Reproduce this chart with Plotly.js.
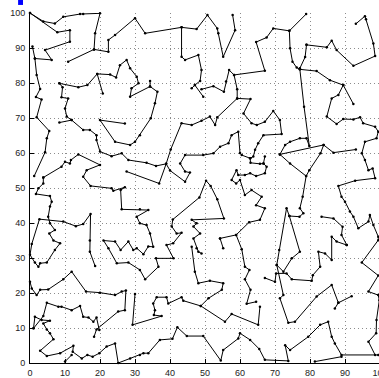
<!DOCTYPE html>
<html><head><meta charset="utf-8">
<script src="https://cdn.plot.ly/plotly-3.0.1.min.js"></script>
<style>html,body{margin:0;padding:0;overflow:hidden;background:#fff}</style>
</head><body><div id="chart"></div>
<script>
const p01x=[0,3.8,7.1,9.5,14.3,15.2,20,18.6,18.3,22.4,22.4,24.3,30,32.9,43.3,47.6,50.7,53.5,53.8,55.2,58.6,57.9];
const p01y=[100,97.6,97.0,98.9,99.7,99.7,99.9,94.2,89.6,88.9,92.3,93.7,98.5,94.2,95.9,95.4,99.4,95.6,94.2,87.5,95.1,99.4];
const p02x=[0,7.8,11.4,11.4,4.3,6.2,1.4,0.7];
const p02y=[100,94.5,95.1,91.8,89.4,86.6,87.0,90.4];
const p03x=[1.4,1.9,2.9,1.7,3.3,1.9,5.5,4.8,4.3,1.2];
const p03y=[87.0,82.3,78.3,76.0,75.3,70.2,66.3,64.2,60.2,53.4];
const p04x=[10.9,18.3], p04y=[86.1,89.6];
const p05x=[43.3,43.3,44.3,48.1,49.0,48.6,47.1,46.2];
const p05y=[95.9,87.5,86.6,88.0,83.7,80.6,79.4,78.5];
const p06x=[47.1,49.5], p06y=[79.4,76.1];
const p07x=[49.0,52.4,55.4,56.0,56.9,58.3,59.2,59.2,63.0,61.0,63.3,64.8,67.1,69.5,71.4,71.9,66.7,65.2,64.3,63.8,62.9,60.5,60.0,59.5,57.6,56.7,54.3,52.4,49.5,44.3,42.9,44.3,45.7,44.3,40.0,38.9,36.9,27.6];
const p07y=[78.2,79.1,77.5,80.4,83.7,82.3,78.2,75.6,75.4,71.3,68.5,68.0,68.9,72.0,69.4,65.4,65.1,62.8,60.9,59.0,58.5,59.4,60.0,66.1,65.1,62.8,61.8,59.9,59.4,59.4,57.0,54.7,54.4,51.8,55.0,56.9,51.3,54.7];
const p08x=[58.3,67.1,64.6,67.6,69.5,74.1,78.9];
const p08y=[82.3,83.5,91.7,93.0,95.6,94.9,99.7];
const p09x=[74.1,74.3,75.0,76.2,77.1,81.9,85.7,89.5,92.4];
const p09y=[94.9,89.9,86.1,84.4,83.9,83.4,80.8,79.4,74.0];
const p10x=[77.1,78.3,79.8,79.0,77.1,74.3,72.9,71.4,83.9,86.7,93.1];
const p10y=[83.9,73.2,62.0,64.2,64.2,63.2,62.3,59.6,62.3,60.1,61.0];
const p11x=[71.4,74.3,78.9,79.8,83.0,83.9];
const p11y=[59.6,57.0,53.4,55.1,59.9,62.3];
const p12x=[78.9,77.9,77.1,78.1,77.0,74.1,73.3,71.2,70.5,72.4,74.8,77.1,74.1];
const p12y=[53.4,47.5,44.2,42.8,41.8,42.0,44.2,32.3,28.0,26.1,29.9,31.8,42.0];
const p13x=[70.5,72.4,71.4,73.8,75.7,81.9,86.2,88.1,87.1];
const p13y=[28.0,19.4,18.5,11.5,11.8,19.0,22.3,17.2,15.6];
const p14x=[88.1,91.9], p14y=[17.2,19.1];
const p15x=[90.5,87.6,86.2,86.2,84.3,82.4,82.9,80.8,80.5,74.8,73.3,70.3,70.0,67.1];
const p15y=[33.7,34.7,36.1,29.4,31.3,31.8,27.5,25.1,23.5,23.9,25.6,25.6,23.2,24.3];
const p16x=[83.3,86.7,89.3,89.0,90.5];
const p16y=[41.8,41.3,38.9,36.6,33.7];
const p17x=[79.0,84.8,86.2,87.6,92.4,98.6,98.1,96.0,95.7,93.1];
const p17y=[90.9,90.2,92.1,89.4,84.9,87.7,91.3,98.2,99.1,96.9];
const p18x=[79.0,78.6,77.1], p18y=[90.9,87.4,84.2];
const p19x=[89.5,88.1,86.2,84.8,87.6,89.5,92.4,94.3,95.2,98.6,99.5,99.0,95.7,94.8,95.7,96.7,97.9,98.6,92.9,88.1,89.0,90.0,91.4,92.4,93.8,96.7,97.1,98.1,99.5,99.5,94.8,99.5,96.7,99.5,99.8,99.0,98.9,96.7,98.6];
const p19y=[79.4,76.6,75.6,70.4,68.3,69.7,69.6,70.2,68.5,67.5,66.1,64.2,63.2,59.9,58.0,55.1,55.6,52.8,52.1,50.6,47.5,46.1,43.3,41.8,38.5,40.4,42.3,39.4,36.1,35.1,28.7,25.0,20.4,19.4,17.9,12.3,8.5,6.1,2.3];
const p20x=[8.4,11.9,15.2,17.1,19.0,19.0,20.0,23.3,26.2,28.1,33.3,36.0,38.9,40.2,43.3,46.2,49.0,51.4,52.9,53.5,59.2];
const p20y=[68.7,69.4,66.6,66.6,65.1,63.7,60.4,59.1,59.9,58.0,57.2,56.3,56.9,61.0,68.5,68.0,69.2,70.4,68.0,70.2,75.6];
const p21x=[8.4,13.8,16.4,19.2,22.9,24.6,25.7,27.6,28.6,30.5,31.0,29.0,28.6,34.3,36.4,35.7,34.5,31.4,30.0,28.6,24.3,20.0,27.1];
const p21y=[79.9,78.8,79.4,82.6,82.4,81.6,85.1,86.6,84.2,81.8,79.9,78.5,76.1,79.0,77.5,74.2,69.9,65.1,63.2,62.3,63.2,69.4,68.4];
const p22x=[19.2,20.8], p22y=[82.6,77.0];
const p23x=[8.4,9.3,9.0,10.9,10.0,10.5,11.9];
const p23y=[79.9,78.8,75.9,75.6,72.7,70.4,69.4];
const p24x=[34.3,34.3], p24y=[80.6,79.0];
const p25x=[3.8,9.0,10.0,11.4,11.7,13.8,20.0,16.2,15.2,17.3,23.3,23.8,27.1,25.9,26.2,31.4,33.8,30.5,31.4,33.3,34.3,35.2,33.8,32.4,30.5,29.5,28.1,25.9,24.3,21.0,22.4,24.8,28.1,31.4,32.9,36.7,36.0,41.0,39.0,40.9,43.3,41.9,40.5,40.8,48.4,50.3,51.6,53.5,55.4,46.2,47.6,46.7,48.6,46.7,47.6,48.1,49.0];
const p25y=[53.0,56.1,57.5,57.0,58.0,59.6,56.6,55.1,53.2,50.6,49.9,49.2,50.2,49.4,43.9,43.9,43.7,41.8,39.9,39.4,37.0,33.2,33.3,31.1,32.8,32.3,34.7,32.3,34.7,35.0,32.8,28.5,28.7,26.6,23.9,27.5,29.9,29.9,33.7,34.2,37.2,37.0,39.0,41.0,47.3,52.1,50.6,46.8,41.3,40.9,39.9,39.0,37.0,35.6,32.8,31.8,31.3];
const p26x=[3.8,3.8,2.4,1.7,5.7,6.2,5.7,5.2,5.7,7.1,5.5,6.7,8.6,7.1,4.8,2.9,2.4,1.4,0,0.5,2.7,9.5,13.1,15.2,17.3,17.1,17.1,18.6];
const p26y=[53.0,51.3,49.9,48.3,47.7,46.1,44.7,41.8,39.9,38.0,37.0,35.0,34.2,32.3,28.7,28.5,27.5,28.7,30.9,34.0,41.1,40.4,39.1,39.7,42.6,35.0,31.8,27.7];
const p27x=[0,0.5,1.9,2.9,5.2,9.5,11.9,16.0,20.0,24.3,26.2,27.4,27.1,25.2,19.0,18.3];
const p27y=[23.2,21.3,19.4,20.9,21.0,23.9,26.1,20.4,20.1,19.4,20.4,20.7,15.1,14.7,9.6,7.5];
const p28x=[1.0,3.8,4.8,8.1,9.0,11.9,14.3,15.2,16.7,18.1,19.0,19.8];
const p28y=[9.9,13.4,17.2,16.1,16.1,15.1,16.3,13.2,13.0,11.8,13.0,9.4];
const p29x=[1.0,1.4,3.3,5.7,3.8,4.8,5.7,6.7,2.9,4.8,8.6,12.4,12.2,14.8,16.4,17.9,19.8,21.9,24.3,25.2,28.6,31.4,32.4,33.8,37.1,40.7,42.1,44.8,49.5,54.5,55.2,59.5,60.0,62.9,65.5,67.1,73.8,72.9,74.3,79.5,82.9,85.2,86.2,87.1,89.0,99.5];
const p29y=[9.9,13.2,12.3,12.1,11.3,9.6,8.5,6.8,3.5,2.0,2.8,4.9,3.2,1.3,2.3,1.8,2.8,4.7,5.6,0,1.3,2.3,2.8,2.8,6.6,6.9,10.2,7.7,7.7,0.7,3.7,7.0,8.5,6.6,4.0,0.9,0.6,5.1,3.7,7.5,10.9,11.8,7.5,5.6,2.3,2.3];
const p30x=[10.0,11.9], p30y=[0.4,2.3];
const p31x=[81.4,89.0], p31y=[0.4,1.8];
const p32x=[30.0,29.3,37.6,35.4,35.7,35.2,36.2,39.0,39.5,43.3,43.8,48.8,51.0,54.8,55.2,51.4,48.1,47.1,46.2];
const p32y=[19.7,10.9,13.4,13.7,15.1,17.0,18.8,18.8,17.0,18.8,17.8,16.3,18.5,20.9,22.8,23.5,22.8,26.1,33.2];
const p33x=[48.8,55.7,57.6,65.2,65.7], p33y=[16.3,11.8,14.0,10.9,16.1];
const p34x=[54.3,58.9,60.5,61.4,62.7,61.4,63.0,61.9,64.6];
const p34y=[35.6,36.6,32.5,27.5,26.6,23.9,20.9,16.9,17.5];
const p35x=[54.3,55.2], p35y=[35.6,32.8];
const p36x=[58.9,62.6,65.7,67.1,64.6,66.2,63.3,61.4,60.0,58.9,57.6,59.0,59.5,61.4,62.9,64.6,67.1,67.6,66.7,65.7,63.0,62.9];
const p36y=[36.6,40.2,40.9,44.2,45.1,47.5,49.4,48.0,52.3,51.3,52.3,55.1,53.7,53.7,54.2,53.4,54.2,56.1,57.0,56.9,57.2,58.5];
const p37x=[66.7,67.1], p37y=[57.0,59.0];

const tickVals=[0,10,20,30,40,50,60,70,80,90,100];
const tickText=['0','10','20','30','40','50','60','70','80','90','100'];

const paths=[[p01x,p01y],[p02x,p02y],[p03x,p03y],[p04x,p04y],[p05x,p05y],[p06x,p06y],[p07x,p07y],[p08x,p08y],[p09x,p09y],[p10x,p10y],[p11x,p11y],[p12x,p12y],[p13x,p13y],[p14x,p14y],[p15x,p15y],[p16x,p16y],[p17x,p17y],[p18x,p18y],[p19x,p19y],[p20x,p20y],[p21x,p21y],[p22x,p22y],[p23x,p23y],[p24x,p24y],[p25x,p25y],[p26x,p26y],[p27x,p27y],[p28x,p28y],[p29x,p29y],[p30x,p30y],[p31x,p31y],[p32x,p32y],[p33x,p33y],[p34x,p34y],[p35x,p35y],[p36x,p36y],[p37x,p37y]];
const X=[],Y=[];
paths.forEach(([px,py])=>{X.push(...px,null);Y.push(...py,null);});

const axisCommon={range:[0,100],tickvals:tickVals,ticktext:tickText,showgrid:true,gridcolor:'#8c8c8c',griddash:'1px,3px',gridwidth:1,
  showline:true,linecolor:'#000',linewidth:1,ticks:'inside',ticklen:4,tickcolor:'#000',zeroline:false,mirror:false,
  ticklabeloverflow:'allow',
  tickfont:{family:'Liberation Sans Narrow, Liberation Sans, Arial, sans-serif',size:9,color:'#222'},fixedrange:true};

Plotly.newPlot('chart',[{x:X,y:Y,type:'scatter',mode:'lines+markers',connectgaps:false,cliponaxis:false,
  line:{color:'#000',width:1},marker:{color:'#000',size:2.5},hoverinfo:'skip'}],
{width:380,height:378,margin:{l:30,r:0,t:13,b:15},paper_bgcolor:'#fff',plot_bgcolor:'#fff',showlegend:false,
 xaxis:Object.assign({},axisCommon,{ticklabelstandoff:1}),
 yaxis:Object.assign({},axisCommon,{ticklabelstandoff:2}),
 shapes:[{type:'rect',xref:'paper',yref:'paper',x0:-0.034,x1:-0.02,y0:1.023,y1:1.04,fillcolor:'#0000ff',line:{width:0}}]
},{staticPlot:true,displayModeBar:false});
</script></body></html>
